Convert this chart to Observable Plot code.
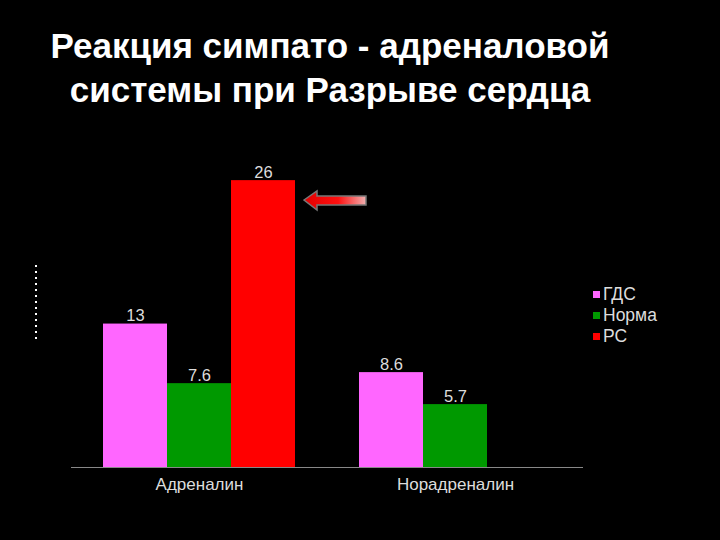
<!DOCTYPE html>
<html><head><meta charset="utf-8">
<script src="https://cdn.jsdelivr.net/npm/d3@7"></script>
<script src="https://cdn.jsdelivr.net/npm/@observablehq/plot@0.6"></script>
<style>
html,body{margin:0;padding:0;background:#000;}
#wrap{position:relative;width:720px;height:540px;background:#000;overflow:hidden;font-family:"Liberation Sans",Arial,sans-serif;}
#title{position:absolute;left:0;top:24px;width:660px;text-align:center;color:#fff;font-weight:bold;font-size:35px;line-height:44px;}
#legend{position:absolute;left:593px;top:284px;color:#ddd;font-size:17.5px;line-height:21px;}
#legend .it{display:flex;align-items:center;}
#legend .sw{width:7px;height:7px;margin-right:3px;}
#deco{position:absolute;left:0;top:0;}
#chart{position:absolute;left:0;top:0;}
</style></head>
<body><div id="wrap">
<div id="chart"></div>
<div id="title">Реакция симпато - адреналовой<br>системы при Разрыве сердца</div>
<div id="legend"></div>
<svg id="deco" width="720" height="540">
  <defs><linearGradient id="ag" x1="0" x2="1" y1="0" y2="0">
    <stop offset="0" stop-color="#e00000"/><stop offset="0.55" stop-color="#ff1010"/><stop offset="1" stop-color="#f0b0b0"/></linearGradient></defs>
  <path d="M304,200 L317,191 L317,196 L366,196 L366,205 L317,205 L317,210 Z" fill="url(#ag)" stroke="#777" stroke-width="1.5"/>
  <line x1="36" y1="265" x2="36" y2="340" stroke="#fff" stroke-width="2" stroke-dasharray="2,4"/>
</svg>
</div>
<script>
const categories = ["Адреналин", "Норадреналин"];
const seriesNames = ["ГДС", "Норма", "РС"];
const seriesColors = ["#ff66ff", "#009900", "#ff0000"];
const adrenalinValues = [13, 7.6, 26];
const noradrenalinValues = [8.6, 5.7, null];

const rows = [];
[adrenalinValues, noradrenalinValues].forEach((vals, ci) => {
  vals.forEach((v, si) => {
    if (v != null) rows.push({cat: categories[ci], series: seriesNames[si], value: v});
  });
});

const plot = Plot.plot({
  width: 720,
  height: 540,
  marginTop: 136,
  marginBottom: 73,
  marginLeft: 71,
  marginRight: 137,
  style: {background: "transparent", color: "#ddd", fontFamily: "Liberation Sans, Arial, sans-serif", fontSize: "16px"},
  fx: {domain: categories, padding: 0, label: null, axis: null},
  x: {domain: seriesNames, paddingInner: 0, paddingOuter: 0.5, axis: null},
  y: {domain: [0, 30], axis: null},
  color: {domain: seriesNames, range: seriesColors},
  marks: [
    Plot.barY(rows, {fx: "cat", x: "series", y: "value", fill: "series", inset: 0}),
    Plot.text(rows, {fx: "cat", x: "series", y: "value", text: d => String(d.value), lineAnchor: "bottom", dy: -3, fill: "#ddd", fontSize: 16.5}),
    Plot.ruleY([0], {stroke: "#888", strokeWidth: 1}),
    Plot.axisFx({anchor: "bottom", tickSize: 0, tickPadding: 10, fontSize: 17, fill: "#ddd", label: null})
  ]
});
document.getElementById("chart").appendChild(plot);

const leg = document.getElementById("legend");
seriesNames.forEach((n, i) => {
  const d = document.createElement("div");
  d.className = "it";
  d.innerHTML = `<span class="sw" style="background:${seriesColors[i]}"></span><span>${n}</span>`;
  leg.appendChild(d);
});
</script>
</body></html>
